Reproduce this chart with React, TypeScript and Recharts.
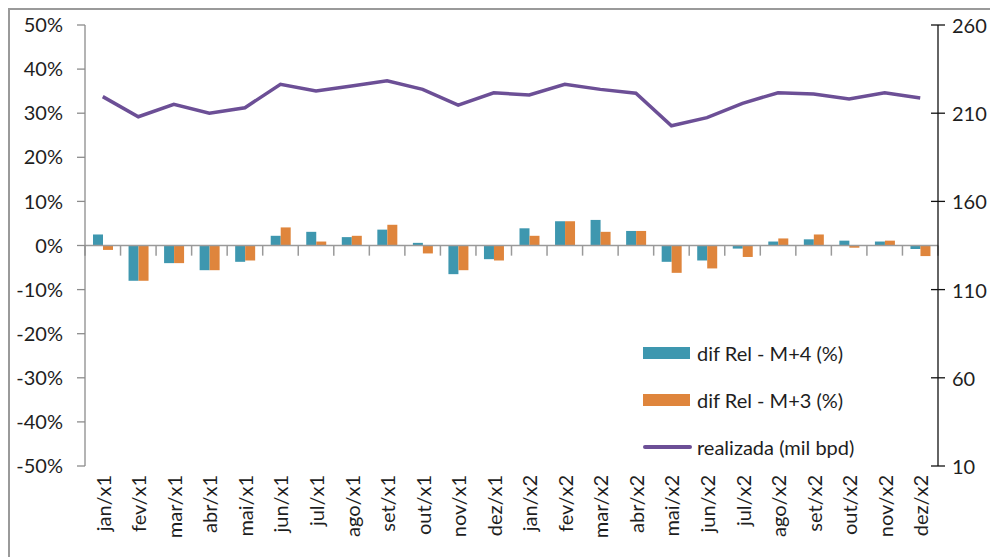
import React from "react";
import {
  ComposedChart,
  Bar,
  Line,
  XAxis,
  YAxis,
  ReferenceLine,
} from "recharts";

const categories = [
  "jan/x1", "fev/x1", "mar/x1", "abr/x1", "mai/x1", "jun/x1", "jul/x1", "ago/x1", "set/x1", "out/x1", "nov/x1", "dez/x1",
  "jan/x2", "fev/x2", "mar/x2", "abr/x2", "mai/x2", "jun/x2", "jul/x2", "ago/x2", "set/x2", "out/x2", "nov/x2", "dez/x2",
];
const difM4 = [2.5, -8.0, -4.0, -5.6, -3.7, 2.2, 3.1, 1.9, 3.6, 0.6, -6.5, -3.1, 3.9, 5.5, 5.8, 3.3, -3.7, -3.4, -0.7, 0.9, 1.4, 1.1, 0.9, -0.8];
const difM3 = [-1.0, -8.0, -4.0, -5.6, -3.4, 4.1, 0.9, 2.2, 4.7, -1.8, -5.6, -3.4, 2.2, 5.5, 3.1, 3.3, -6.2, -5.2, -2.6, 1.6, 2.5, -0.5, 1.1, -2.4];
const realizada = [219.4, 208.0, 215.0, 210.0, 213.1, 226.4, 222.6, 225.4, 228.4, 223.5, 214.6, 221.6, 220.3, 226.4, 223.5, 221.3, 202.9, 207.5, 215.6, 221.6, 220.9, 218.0, 221.6, 218.6];
const leftTicks = [-50, -40, -30, -20, -10, 0, 10, 20, 30, 40, 50];
const rightTicks = [10, 60, 110, 160, 210, 260];

const seriesNames = ["dif Rel - M+4 (%)", "dif Rel - M+3 (%)", "realizada (mil bpd)"];

const data = categories.map((c, i) => ({
  cat: c,
  m4: difM4[i],
  m3: difM3[i],
  real: realizada[i],
}));

const TEAL = "#3E97AF";
const ORANGE = "#DF853C";
const PURPLE = "#6C4F96";
const FONT = "Lato, 'Open Sans', sans-serif";
const TEXT = "#1e1e1e";

const XTick = (props: any) => {
  const { x, y, payload } = props;
  return (
    <text
      x={x}
      y={y + 9}
      transform={`rotate(-90, ${x}, ${y + 9})`}
      textAnchor="end"
      dominantBaseline="central"
      fontFamily={FONT}
      fontSize={20}
      fill={TEXT}
    >
      {payload.value}
    </text>
  );
};

const RightTick = (props: any) => {
  const { x, y, payload } = props;
  return (
    <g>
      <line x1={x - 7} x2={x + 7} y1={y} y2={y} stroke="#111" strokeWidth={1.3} />
      <text
        x={x + 14}
        y={y}
        textAnchor="start"
        dominantBaseline="central"
        fontFamily={FONT}
        fontSize={20}
        fill={TEXT}
      >
        {payload.value}
      </text>
    </g>
  );
};

const LegendBox = () => (
  <div
    style={{
      position: "absolute",
      left: 633,
      top: 319,
      width: 260,
      fontFamily: FONT,
      fontSize: 20,
      color: TEXT,
    }}
  >
    <div style={{ display: "flex", alignItems: "center", height: 47 }}>
      <span style={{ display: "inline-block", width: 47, height: 12, background: TEAL, marginRight: 7 }} />
      {seriesNames[0]}
    </div>
    <div style={{ display: "flex", alignItems: "center", height: 47 }}>
      <span style={{ display: "inline-block", width: 47, height: 12, background: ORANGE, marginRight: 7 }} />
      {seriesNames[1]}
    </div>
    <div style={{ display: "flex", alignItems: "center", height: 47 }}>
      <span style={{ display: "inline-block", width: 49, height: 4, borderRadius: 2, background: PURPLE, marginRight: 5 }} />
      {seriesNames[2]}
    </div>
  </div>
);

export default function App() {
  return (
    <div
      style={{
        width: 990,
        height: 549,
        borderTop: "2px solid #9a9a9a",
        borderLeft: "2px solid #9a9a9a",
        background: "#fff",
        position: "relative",
      }}
    >
      <ComposedChart
        width={988}
        height={547}
        data={data}
        margin={{ top: 15, right: 0, bottom: 0, left: 0 }}
        barGap={0}
        barCategoryGap="22%"
      >
        <XAxis
          dataKey="cat"
          height={91}
          axisLine={false}
          tickLine={false}
          tickSize={0}
          tickMargin={0}
          interval={0}
          tick={<XTick />}
        />
        <YAxis
          yAxisId="left"
          orientation="left"
          width={75}
          domain={[-50, 50]}
          ticks={leftTicks}
          tickFormatter={(v: number) => `${v}%`}
          axisLine={{ stroke: "#8c8c8c", strokeWidth: 1.3 }}
          tickLine={{ stroke: "#8c8c8c", strokeWidth: 1.3 }}
          tickSize={8}
          tickMargin={14}
          tick={{ fontFamily: FONT, fontSize: 20, fill: TEXT }}
          interval={0}
        />
        <YAxis
          yAxisId="right"
          orientation="right"
          width={60}
          domain={[10, 260]}
          ticks={rightTicks}
          axisLine={{ stroke: "#111", strokeWidth: 1.3 }}
          tickLine={false}
          tickSize={0}
          tickMargin={0}
          tick={<RightTick />}
          interval={0}
        />
        <Bar yAxisId="left" dataKey="m4" name={seriesNames[0]} fill={TEAL} barSize={10} isAnimationActive={false} />
        <Bar yAxisId="left" dataKey="m3" name={seriesNames[1]} fill={ORANGE} barSize={10} isAnimationActive={false} />
        <ReferenceLine yAxisId="left" y={0} stroke="#9a9a9a" strokeWidth={1.5} />
        {categories.map((c) => (
          <ReferenceLine
            key={`t-${c}`}
            yAxisId="left"
            position="start"
            segment={[{ x: c, y: 0 }, { x: c, y: -2.3 }]}
            stroke="#9a9a9a"
            strokeWidth={1.5}
          />
        ))}
        <ReferenceLine
          yAxisId="left"
          position="end"
          segment={[{ x: categories[categories.length - 1], y: 0 }, { x: categories[categories.length - 1], y: -2.3 }]}
          stroke="#9a9a9a"
          strokeWidth={1.5}
        />
        <Line
          yAxisId="right"
          dataKey="real"
          name={seriesNames[2]}
          stroke={PURPLE}
          strokeWidth={3.5}
          dot={false}
          isAnimationActive={false}
        />
      </ComposedChart>
      <LegendBox />
    </div>
  );
}
